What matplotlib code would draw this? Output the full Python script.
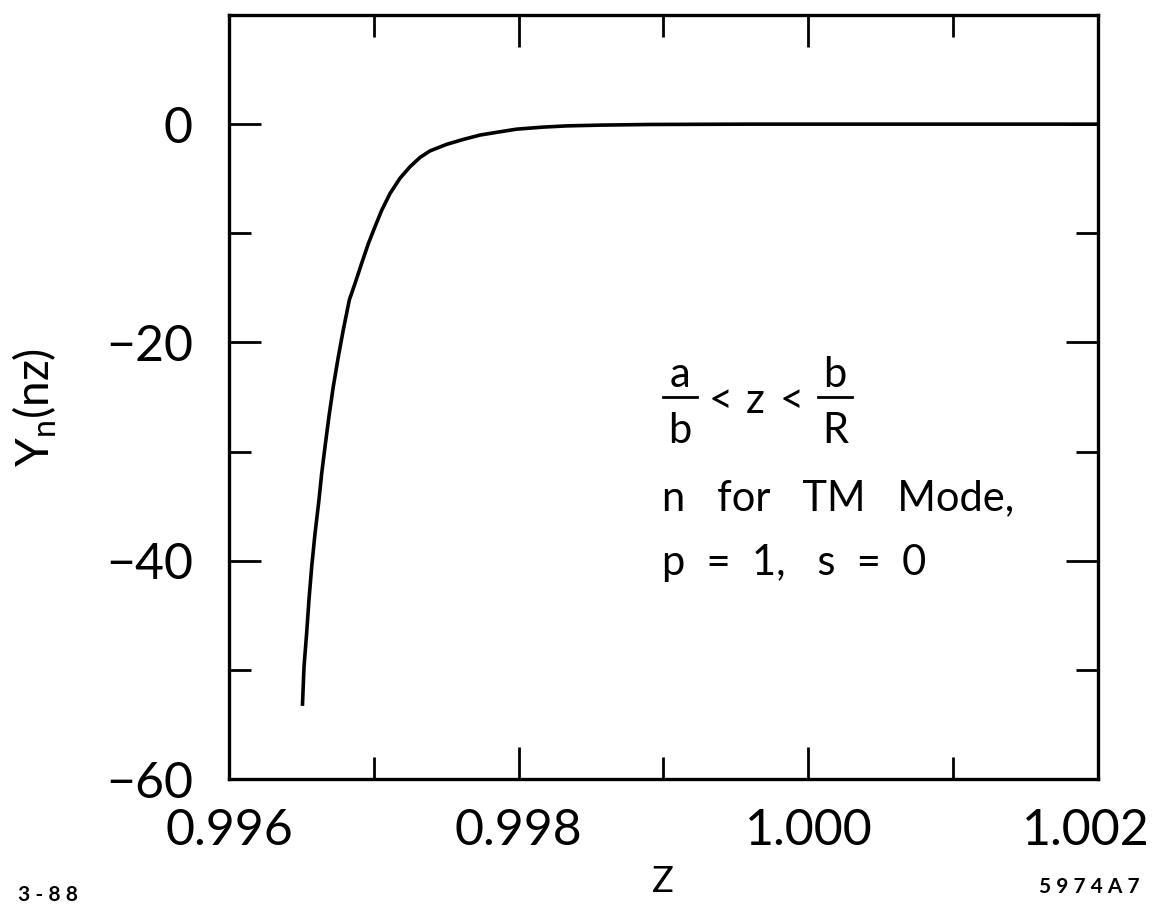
import matplotlib
matplotlib.use("Agg")
import matplotlib.pyplot as plt
from matplotlib.transforms import ScaledTranslation

plt.rcParams["font.family"] = ["Lato", "DejaVu Sans"]
plt.rcParams["mathtext.fontset"] = "custom"
plt.rcParams["mathtext.rm"] = "Lato"
plt.rcParams["mathtext.it"] = "Lato"
plt.rcParams["mathtext.default"] = "regular"

# curve
z = [0.996507, 0.996518, 0.996536, 0.996552, 0.996571, 0.996594, 0.996621,
     0.996640, 0.996663, 0.996690, 0.996720, 0.996755, 0.996789, 0.996831,
     0.996870, 0.996916, 0.996962, 0.997008, 0.997054, 0.997112, 0.997181,
     0.997250, 0.997319, 0.997388, 0.997503, 0.997618, 0.997733, 0.997871,
     0.997986, 0.998170, 0.998332, 0.998562, 0.998907, 0.999597, 1.002000]
yn = [-53.3, -49.7, -46.65, -43.6, -40.55, -37.5, -34.45,
      -32.0, -29.55, -26.8, -24.05, -21.3, -18.85, -16.1,
      -14.6, -12.75, -10.95, -9.4, -7.9, -6.35, -4.95,
      -3.9, -3.05, -2.45, -1.85, -1.4, -1.0, -0.7,
      -0.46, -0.27, -0.16, -0.09, -0.03, 0.0, 0.0]

x_major = [0.996, 0.998, 1.000, 1.002]
x_major_labels = ["0.996", "0.998", "1.000", "1.002"]
x_minor = [0.997, 0.999, 1.001]
y_major = [-60, -40, -20, 0]
y_major_labels = ["\u221260", "\u221240", "\u221220", "0"]
y_minor = [-50, -30, -10]

W, H = 1157, 909
fig = plt.figure(figsize=(W / 100, H / 100), dpi=100)
ax = fig.add_axes([229 / W, 1 - 779 / H, (1098 - 229) / W, (779 - 15) / H])
ax.plot(z, yn, color="black", lw=2.6, solid_capstyle="butt")
ax.set_xlim(0.996, 1.002)
ax.set_ylim(-60, 10)

ax.set_xticks(x_major)
ax.set_xticklabels(x_major_labels)
ax.set_xticks(x_minor, minor=True)
ax.set_yticks(y_major)
ax.set_yticklabels(y_major_labels)
ax.set_yticks(y_minor, minor=True)
ax.tick_params(which="both", direction="in", top=True, right=True, width=2, labelsize=36)
ax.tick_params(which="major", length=23)
ax.tick_params(which="minor", length=16)
ax.tick_params(axis="x", pad=21)
ax.tick_params(axis="y", pad=26)
for s in ax.spines.values():
    s.set_linewidth(2.4)
# last x label sits a little left so it stays inside the page
lab = ax.get_xticklabels()[-1]
lab.set_transform(lab.get_transform() + ScaledTranslation(-12 / 100, 0, fig.dpi_scale_trans))


def px(x, y):
    return x / W, 1 - y / H


fig.text(*px(35, 408), "Y$_{n}$(nz)", fontsize=33, rotation=90, ha="center", va="center")
fig.text(*px(663, 882), "Z", fontsize=26, ha="center", va="center")
fig.text(*px(18, 895), "3 - 8 8", fontsize=15, fontweight="bold", ha="left", va="center")
fig.text(*px(1140, 887), "5 9 7 4 A 7", fontsize=15, fontweight="bold", ha="right", va="center")

# a/b < z < b/R, built by hand so the fractions keep full size
fs = 30
for s, x, y in [("a", 680, 387), ("b", 680, 443), ("b", 835, 387), ("R", 835, 443),
                ("<", 721, 413), ("z", 755, 413), ("<", 792, 413)]:
    fig.text(*px(x, y), s, fontsize=fs, ha="center", va="baseline")
for x0, x1 in [(663, 697), (818, 852)]:
    fig.add_artist(plt.Line2D([x0 / W, x1 / W], [1 - 397 / H] * 2, color="black", lw=2))

fig.text(*px(662, 510), "n   for   TM   Mode,", fontsize=fs, ha="left", va="baseline")
fig.text(*px(662, 575), "p  =  1,   s  =  0", fontsize=fs, ha="left", va="baseline")

fig.savefig("out.png", dpi=100)
